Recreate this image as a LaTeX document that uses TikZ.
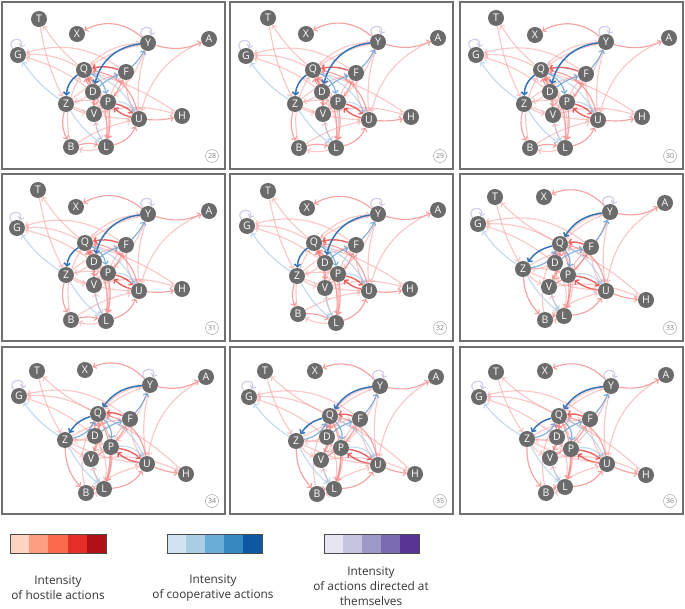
\documentclass[tikz,border=0pt]{standalone}
\usepackage{fontspec}
\setmainfont{Open Sans}
\usetikzlibrary{arrows.meta}
\pgfdeclarelayer{edgelayer}
\pgfsetlayers{edgelayer,main}
\definecolor{vgray}{HTML}{6B6B6B}
\definecolor{framec}{HTML}{707070}
\definecolor{hostL}{HTML}{F7A3A3}
\definecolor{hostM}{HTML}{F07070}
\definecolor{hostS}{HTML}{E63C3C}
\definecolor{coopL}{HTML}{A3C6E6}
\definecolor{coopM}{HTML}{6AA3D5}
\definecolor{coopD}{HTML}{3474B6}
\definecolor{selfL}{HTML}{CBC6E4}
\definecolor{ra}{HTML}{FDD3C1}\definecolor{rb}{HTML}{FC9F81}\definecolor{rc}{HTML}{FB6A4A}\definecolor{rd}{HTML}{E32F27}\definecolor{re}{HTML}{B01117}
\definecolor{ba}{HTML}{D1E2F2}\definecolor{bb}{HTML}{A9CEE4}\definecolor{bc}{HTML}{6AAED6}\definecolor{bd}{HTML}{3787C0}\definecolor{be}{HTML}{0F59A3}
\definecolor{pa}{HTML}{E7E5F1}\definecolor{pb}{HTML}{C6C3DF}\definecolor{pc}{HTML}{9D98C7}\definecolor{pd}{HTML}{7A6CB0}\definecolor{pe}{HTML}{5B3394}
\tikzset{
 frame/.style={draw=framec, line width=1.4pt},
 vert/.style={circle, fill=vgray, minimum size=16pt, inner sep=0pt, text=white, font=\fontsize{10.5}{10.5}\selectfont},
 badge/.style={circle, draw=gray!70, line width=0.5pt, minimum size=13pt, inner sep=0pt, text=gray, font=\fontsize{7}{7}\selectfont},
 ed/.style={-{Straight Barb[length=2.8pt,width=6pt]}, line width=1.15pt},
 hl/.style={ed, draw=hostL, draw opacity=.6},
 hm/.style={ed, draw=hostM, draw opacity=.65},
 hs/.style={ed, draw=hostS, draw opacity=.8, line width=1.4pt},
 bl/.style={ed, draw=coopL, draw opacity=.65},
 bm/.style={ed, draw=coopM, draw opacity=.85},
 bdk/.style={ed, draw=coopD, line width=1.5pt},
 pl/.style={ed, draw=selfL, draw opacity=.9},
 legtext/.style={align=center, font=\fontsize{11.8}{15}\selectfont, text=black!80},
 cellbox/.style={draw=black!70, line width=0.8pt}
}
\newcommand\commonedges{%
 \draw[hm, bend right=35] (Y\pp) to (X\pp);
 \draw[hm, bend right=20] (Y\pp) to (A\pp);
 \draw[hl, bend left=8] (Q\pp) to (T\pp);
 \draw[hl, bend right=8] (T\pp) to (Z\pp);
 \draw[hl, bend right=15] (Q\pp) to (G\pp);
 \draw[hl, bend right=25] (F\pp) to (G\pp);
 \draw[hl, bend right=10] (D\pp) to (G\pp);
 \draw[bl, bend left=10] (Z\pp) to (G\pp);
 \draw[hl, bend right=10] (Y\pp) to (U\pp);
 \draw[hl, bend left=12] (Y\pp) to (P\pp);
 \draw[hl, bend right=10] (Y\pp) to (Q\pp);
 \draw[hl, bend right=25] (A\pp) to (U\pp);
 \draw[hl, bend right=8] (H\pp) to (Q\pp);
 \draw[hm, bend right=8] (U\pp) to (H\pp);
 \draw[hl, bend left=15] (V\pp) to (H\pp);
 \draw[hm, bend right=25] (L\pp) to (U\pp);
 \draw[hm, bend left=15] (B\pp) to (L\pp);
 \draw[hl, bend left=15] (L\pp) to (B\pp);
 \draw[hm, bend right=20] (Z\pp) to (B\pp);
 \draw[hs, bend left=15] (P\pp) to (U\pp);
 \draw[hs, bend left=15] (U\pp) to (P\pp);
 \draw[hs, bend right=15] (F\pp) to (Q\pp);
 \draw[hm, bend left=10] (D\pp) to (Q\pp);
 \draw[hm, bend right=10] (V\pp) to (Q\pp);
 \draw[hm, bend right=20] (L\pp) to (Q\pp);
 \draw[hl, bend left=20] (B\pp) to (Q\pp);
 \draw[hl, bend left=25] (Q\pp) to (L\pp);
 \draw[hm, bend left=10] (P\pp) to (L\pp);
 \draw[hl, bend left=10] (L\pp) to (V\pp);
 \draw[hl, bend right=10] (Z\pp) to (U\pp);
 \draw[hl, bend left=10] (Z\pp) to (P\pp);
 \draw[hm, bend right=15] (V\pp) to (F\pp);
 \draw[hl, bend left=10] (P\pp) to (F\pp);
 \draw[hm, bend right=35] (U\pp) to (Q\pp);
 \draw[hl, bend left=10] (D\pp) to (Z\pp);
 \draw[hl, bend left=15] (V\pp) to (P\pp);
 \draw[hm, bend left=15] (Q\pp) to (V\pp);
 \draw[hl, bend right=15] (F\pp) to (U\pp);
 \draw[hl, bend left=10] (B\pp) to (U\pp);
 \draw[hl, bend left=12] (Z\pp) to (F\pp);
 \draw[hl, bend left=20] (Q\pp) to (Y\pp);
 \draw[hl, bend right=12] (Z\pp) to (V\pp);
 \draw[hl, bend left=18] (D\pp) to (L\pp);
 \draw[bm, bend right=10] (F\pp) to (Y\pp);
 \draw[bm, bend left=10] (D\pp) to (F\pp);
 \draw[bl, bend right=10] (Z\pp) to (L\pp);
 \draw[bl, bend left=30] (P\pp) to (U\pp);
 \draw[bl, bend left=20] (Q\pp) to (U\pp);
 \draw[bl, bend right=10] (V\pp) to (L\pp);
 \draw[pl] (Y\pp) to[out=130, in=70, min distance=13pt] (Y\pp);
 \draw[pl] (G\pp) to[out=130, in=70, min distance=13pt] (G\pp);
}
\newcommand\edgesA{%
 \draw[bdk, bend right=35] (Y\pp) to (D\pp);
 \draw[bdk, bend right=25] (Q\pp) to (Z\pp);
 \draw[bm, bend left=25] (Q\pp) to (P\pp);
}
\newcommand\edgesB{%
 \draw[bdk, bend right=25] (Y\pp) to (Q\pp);
 \draw[bdk, bend right=20] (Q\pp) to (Z\pp);
 \draw[bm, bend right=25] (Z\pp) to (Q\pp);
 \draw[bm, bend left=25] (Q\pp) to (P\pp);
}
\newcommand\mkpanel[5]{%
\begin{scope}[shift={(#1,#2)}]
 \def\pp{#3}
 \draw[frame] (0,0) rectangle (223,167);
 \foreach \n/\x/\y in {#4} {\node[vert] (\n#3) at (\x,\y) {\n};}
 \node[badge] (badge#3) at (210,154) {#3};
 \begin{pgfonlayer}{edgelayer}
  \commonedges
  #5
 \end{pgfonlayer}
\end{scope}}
\begin{document}
\begin{tikzpicture}[x=1pt,y=-1pt]
\useasboundingbox (0,0) rectangle (685,609);
\mkpanel{2}{2}{28}{T/37/17, X/75/32, Y/146/41, A/207/37, G/16/53, Q/82/68, F/124/70, D/91/90, Z/64/102, P/106/100, V/92/112, U/137/117, H/180/114, B/69/145, L/104/145}{\edgesA}
\mkpanel{230}{2}{29}{T/38/16, X/76/32, Y/148/40, A/208/36, G/16/54, Q/83/68, F/126/71, D/92/90, Z/65/102, P/108/100, V/93/112, U/139/118, H/181/115, B/69/146, L/106/146}{\edgesA}
\mkpanel{460}{2}{30}{T/36/16, X/75/33, Y/146/40, A/209/36, G/16/53, Q/81/68, F/126/72, D/90/90, Z/64/102, P/107/100, V/93/113, U/138/118, H/182/115, B/70/146, L/105/146}{\edgesA}
\mkpanel{2}{174}{31}{T/36/16, X/74/33, Y/146/40, A/207/37, G/15/54, Q/83/69, F/124/71, D/92/88, Z/64/101, P/106/99, V/92/111, U/137/117, H/180/115, B/69/146, L/104/147}{\edgesA}
\mkpanel{230}{174}{32}{T/38/17, X/77/34, Y/148/40, A/208/36, G/17/52, Q/84/69, F/126/71, D/95/89, Z/67/102, P/108/100, V/95/114, U/139/117, H/180/115, B/68/140, L/106/149}{\edgesA}
\mkpanel{460}{174}{33}{T/35/23, X/84/23, Y/150/38, A/205/29, G/18/50, Q/100/70, F/131/73, D/95/89, Z/63/95, P/108/101, V/89/113, U/146/117, H/186/126, B/85/146, L/104/142}{\edgesB}
\mkpanel{2}{347}{34}{T/35/24, X/83/23, Y/148/38, A/204/30, G/17/49, Q/96/67, F/128/72, D/93/89, Z/63/93, P/109/100, V/89/112, U/145/117, H/184/127, B/84/146, L/102/142}{\edgesB}
\mkpanel{230}{347}{35}{T/35/24, X/85/24, Y/150/39, A/206/30, G/19/50, Q/100/69, F/130/72, D/97/90, Z/66/94, P/111/101, V/91/113, U/148/118, H/185/127, B/87/147, L/104/142}{\edgesB}
\mkpanel{460}{347}{36}{T/36/25, X/85/24, Y/151/39, A/206/28, G/19/50, Q/99/69, F/130/72, D/97/90, Z/67/92, P/111/102, V/90/111, U/147/117, H/186/128, B/86/146, L/105/140}{\edgesB}
% legend bars
\foreach \c [count=\i from 0] in {ra,rb,rc,rd,re} {\fill[\c] (10+19.2*\i,534) rectangle (10+19.2*\i+19.2,553);}
\draw[cellbox] (10,534) rectangle (106,553);
\foreach \c [count=\i from 0] in {ba,bb,bc,bd,be} {\fill[\c] (167+19*\i,534) rectangle (167+19*\i+19,553);}
\draw[cellbox] (167,534) rectangle (262,553);
\foreach \c [count=\i from 0] in {pa,pb,pc,pd,pe} {\fill[\c] (324+19*\i,534) rectangle (324+19*\i+19,553);}
\draw[cellbox] (324,534) rectangle (419,553);
\node[legtext] (lh) at (58,588) {Intensity\\of hostile actions};
\node[legtext] (lc) at (213,588) {Intensity\\of cooperative actions};
\node[legtext] (ls) at (371,586) {Intensity\\of actions directed at\\themselves};
\end{tikzpicture}
\end{document}
